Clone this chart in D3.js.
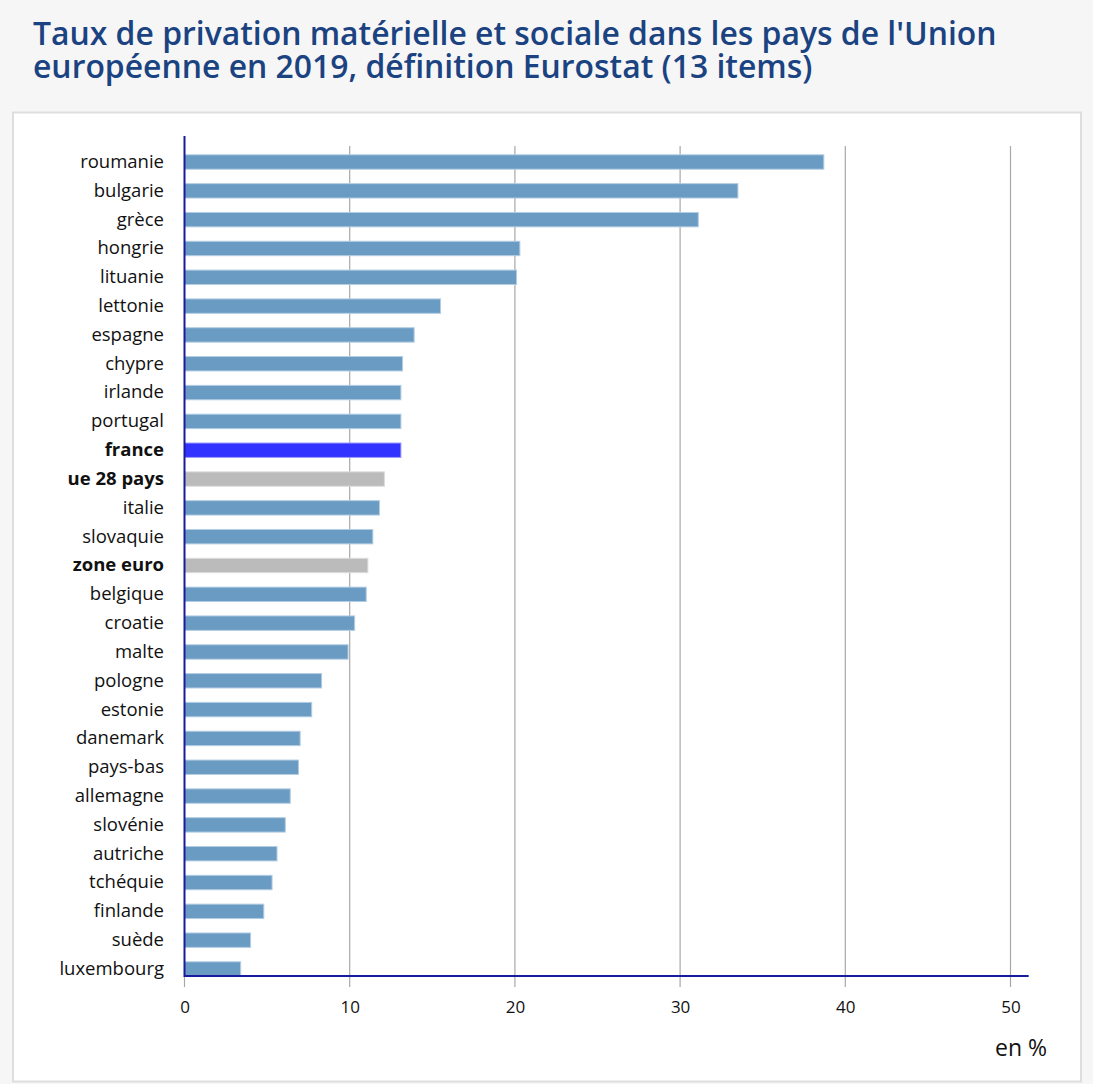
<!DOCTYPE html>
<html>
<head>
<meta charset="utf-8">
<script src="https://cdn.jsdelivr.net/npm/d3@7"></script>
<style>
  html, body { margin: 0; padding: 0; background: #f6f6f6; }
  svg { display: block; }
</style>
</head>
<body>
<svg id="chart" width="1093" height="1084"></svg>
<script>
const categories = ["roumanie","bulgarie","grèce","hongrie","lituanie","lettonie","espagne","chypre","irlande","portugal","france","ue 28 pays","italie","slovaquie","zone euro","belgique","croatie","malte","pologne","estonie","danemark","pays-bas","allemagne","slovénie","autriche","tchéquie","finlande","suède","luxembourg"];
const values = [38.7,33.5,31.1,20.3,20.1,15.5,13.9,13.2,13.1,13.1,13.1,12.1,11.8,11.4,11.1,11.0,10.3,9.9,8.3,7.7,7.0,6.9,6.4,6.1,5.6,5.3,4.8,4.0,3.4];
const highlight = ["france"];
const aggregates = ["ue 28 pays","zone euro"];
const xTicks = [0,10,20,30,40,50];
const titleLines = ["Taux de privation matérielle et sociale dans les pays de l'Union","européenne en 2019, définition Eurostat (13 items)"];
const unitLabel = "en %";

const svg = d3.select("#chart");
const font = "'Open Sans', sans-serif";

// title
svg.append("g").selectAll("text").data(titleLines).join("text")
  .attr("x", 33).attr("y", (d,i) => 45 + i*33)
  .attr("font-family", font).attr("font-size", 31.9).attr("font-weight", 600)
  .attr("fill", "#1b4382").text(d => d);

// panel
svg.append("rect").attr("x", 13).attr("y", 112.5).attr("width", 1068).attr("height", 969)
  .attr("fill", "#fff").attr("stroke", "#dedede").attr("stroke-width", 2);

const x = d3.scaleLinear().domain([0, 50]).range([184.5, 1010.5]);
const y = d3.scaleBand().domain(categories).range([147.6, 983.4]).paddingInner(0.5).paddingOuter(0.25);

// gridlines
svg.append("g").selectAll("line").data(xTicks.filter(t => t > 0)).join("line")
  .attr("x1", d => x(d)).attr("x2", d => x(d)).attr("y1", 146).attr("y2", 987)
  .attr("stroke", "#a8a8a8").attr("stroke-width", 1.2);
svg.append("line").attr("x1", x(0)).attr("x2", x(0)).attr("y1", 976).attr("y2", 987)
  .attr("stroke", "#a8a8a8").attr("stroke-width", 1.2);

// bars
svg.append("g").selectAll("rect").data(categories).join("rect")
  .attr("x", x(0)).attr("y", d => y(d))
  .attr("width", (d,i) => x(values[i]) - x(0)).attr("height", y.bandwidth())
  .attr("fill", d => highlight.includes(d) ? "#3333ff" : aggregates.includes(d) ? "#bbbbbb" : "#6a9bc3")
  .attr("stroke", d => highlight.includes(d) ? "#9999ff" : aggregates.includes(d) ? "#dddddd" : "#b3cde3")
  .attr("stroke-width", 1);

// category labels
const yAxis = d3.axisLeft(y).tickSize(0).tickPadding(0);
const yg = svg.append("g").attr("transform", `translate(${164},0)`).call(yAxis);
yg.select(".domain").remove();
yg.selectAll("text")
  .attr("font-family", font).attr("font-size", 18.5).attr("fill", "#111")
  .attr("font-weight", d => (highlight.includes(d) || aggregates.includes(d)) ? 700 : 400);

// x axis labels
const xAxis = d3.axisBottom(x).tickValues(xTicks).tickSize(0).tickPadding(0);
const xg = svg.append("g").attr("transform", `translate(0,${1001})`).call(xAxis);
xg.select(".domain").remove();
xg.selectAll("text").attr("font-family", font).attr("font-size", 17).attr("fill", "#111");

// axis lines
svg.append("line").attr("x1", x(0)).attr("x2", x(0)).attr("y1", 136).attr("y2", 977)
  .attr("stroke", "#1a1a9c").attr("stroke-width", 2);
svg.append("line").attr("x1", x(0)).attr("x2", x(51.1)).attr("y1", 976).attr("y2", 976)
  .attr("stroke", "#1a1a9c").attr("stroke-width", 2);

// unit label
svg.append("text").attr("x", 1047).attr("y", 1056).attr("text-anchor", "end")
  .attr("font-family", font).attr("font-size", 23).attr("fill", "#111").text(unitLabel);
</script>
</body>
</html>
